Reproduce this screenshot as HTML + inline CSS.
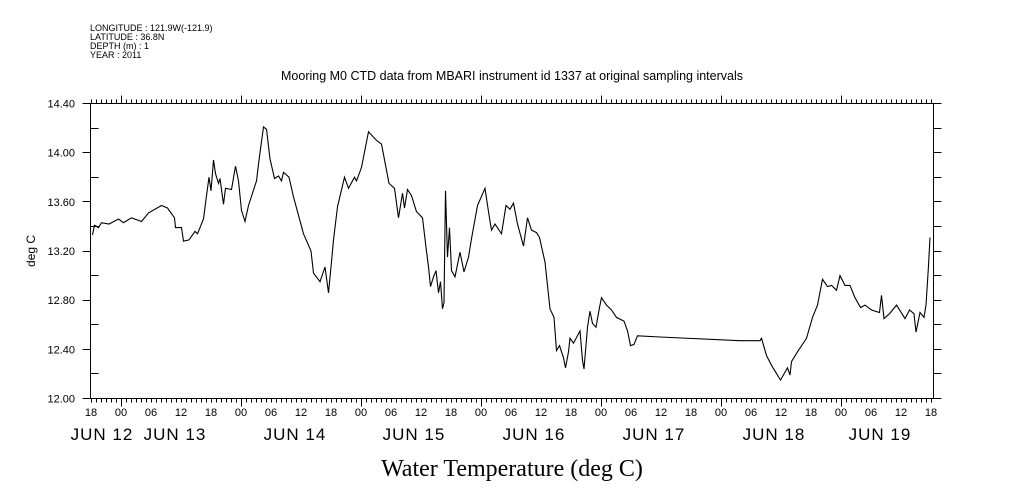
<!DOCTYPE html>
<html><head><meta charset="utf-8">
<style>
html,body{margin:0;padding:0;background:#fff;}
svg{display:block;font-family:"Liberation Sans",sans-serif;}
</style></head>
<body>
<svg id="chart" width="1009" height="504" viewBox="0 0 1009 504" xmlns="http://www.w3.org/2000/svg">
<g font-size="9" fill="#000">
<text x="90" y="31">LONGITUDE : 121.9W(-121.9)</text>
<text x="90" y="40">LATITUDE : 36.8N</text>
<text x="90" y="49">DEPTH (m) : 1</text>
<text x="90" y="58">YEAR : 2011</text>
</g>
<text x="512" y="80" text-anchor="middle" font-size="12.5">Mooring M0 CTD data from MBARI instrument id 1337 at original sampling intervals</text>
<text transform="translate(35,251) rotate(-90)" text-anchor="middle" font-size="12">deg C</text>
<text x="512" y="476" text-anchor="middle" font-size="24" font-family="Liberation Serif, serif">Water Temperature (deg C)</text>
<g id="axes"></g>
<g id="series"></g>
</svg>
<script>
const hours=[0.3,0.7,1.5,2.1,3.6,5.5,6.5,8.1,10.1,11.5,14.1,15.3,16.7,16.9,18.1,18.5,19.6,20.8,21.3,22.5,23.1,23.6,24.0,24.5,24.9,25.5,25.8,26.5,26.9,28.1,28.9,29.5,30.1,30.8,31.5,33.1,33.6,34.5,35.1,35.8,36.7,37.5,38.1,38.5,39.6,40.5,42.5,44.0,44.5,45.8,46.8,47.5,48.0,48.5,49.3,50.7,51.5,52.7,53.1,54.1,55.5,57.1,58.1,59.6,60.7,61.5,62.3,62.7,63.3,64.1,65.1,66.3,67.0,67.5,67.9,68.5,69.0,69.5,69.9,70.3,70.6,70.9,71.3,71.7,72.1,72.8,73.8,74.6,75.5,76.1,77.3,78.8,79.5,80.1,80.8,82.1,83.0,83.8,84.5,85.3,86.5,87.3,88.1,89.1,89.7,90.8,91.8,92.6,93.1,93.7,94.5,94.9,95.5,95.8,96.5,97.8,98.3,98.6,99.3,99.8,100.3,101.0,101.7,102.1,103.1,104.1,105.1,106.6,107.3,107.9,108.6,109.3,113.8,129.8,133.8,134.1,135.1,136.1,137.0,137.9,139.3,139.8,140.1,141.3,143.1,144.3,145.3,146.3,147.3,148.1,149.1,149.8,150.8,151.8,152.8,153.9,154.8,156.1,157.7,158.1,158.6,159.7,161.1,162.8,163.7,164.6,165.0,165.8,166.6,167.0,167.5,167.8];
const temps=[13.33,13.41,13.39,13.43,13.42,13.46,13.43,13.47,13.44,13.51,13.57,13.55,13.47,13.39,13.39,13.28,13.29,13.36,13.34,13.46,13.65,13.80,13.69,13.94,13.83,13.75,13.79,13.58,13.71,13.70,13.89,13.77,13.53,13.44,13.57,13.77,13.94,14.21,14.19,13.95,13.79,13.81,13.77,13.84,13.80,13.64,13.34,13.20,13.02,12.95,13.07,12.86,13.07,13.29,13.56,13.80,13.71,13.80,13.77,13.88,14.17,14.10,14.07,13.75,13.71,13.47,13.67,13.55,13.70,13.65,13.52,13.47,13.23,13.07,12.91,12.99,13.04,12.86,12.95,12.73,12.78,13.69,13.15,13.39,13.04,12.99,13.19,13.03,13.15,13.30,13.57,13.71,13.52,13.37,13.42,13.34,13.57,13.54,13.59,13.42,13.24,13.47,13.37,13.35,13.31,13.11,12.73,12.66,12.39,12.43,12.33,12.25,12.38,12.49,12.45,12.55,12.31,12.24,12.58,12.71,12.61,12.58,12.74,12.82,12.76,12.72,12.66,12.63,12.55,12.43,12.44,12.51,12.50,12.47,12.47,12.49,12.35,12.27,12.21,12.15,12.25,12.19,12.30,12.38,12.49,12.66,12.76,12.97,12.91,12.92,12.88,13.00,12.92,12.92,12.82,12.74,12.76,12.72,12.70,12.84,12.65,12.69,12.76,12.65,12.72,12.69,12.54,12.70,12.66,12.76,13.08,13.31];
const yTickLabels=["12.00","12.40","12.80","13.20","13.60","14.00","14.40"];
const hourTickLabels=["18","00","06","12"];
const dayLabels=["JUN 12","JUN 13","JUN 14","JUN 15","JUN 16","JUN 17","JUN 18","JUN 19"];

const L=90.5,R=933.5,T=103.5,B=398.5,H0=0.1,YMIN=12.0,YMAX=14.4;
const xs=h=>L+(h+H0)*5;
const ys=v=>B-(v-YMIN)/(YMAX-YMIN)*(B-T);
const NS="http://www.w3.org/2000/svg";
const ax=document.getElementById('axes'),se=document.getElementById('series');
function mk(tag,attrs,parent){const e=document.createElementNS(NS,tag);for(const k in attrs)e.setAttribute(k,attrs[k]);parent.appendChild(e);return e;}
let d='';
function ln(x1,y1,x2,y2){d+=`M${x1} ${y1}L${x2} ${y2}`;}
ln(L,T,R,T);ln(R,T,R,B);ln(R,B,L,B);ln(L,B,L,T);
// x ticks every hour
for(let h=0;h<=168;h++){const x=xs(h)-0.5*0+0;const hx=Math.round(xs(h)-0.5)+0.5;
 const big=(h%24===6);const med=(h%6===0);
 const len=big?8:4;
 ln(hx,B,hx,B+len);ln(hx,T,hx,T-len);}
// y ticks
for(let i=0;i<=12;i++){const v=YMIN+i*0.2;const y=Math.round(ys(v)-0.5)+0.5;
 if(i%2===0){ln(L-8,y,L,y);}else{ln(L,y,L+8,y);}
 ln(R,y,R+8,y);}
const p=mk('path',{d:d,stroke:'#000','stroke-width':1,fill:'none'},ax);


yTickLabels.forEach((t,i)=>{const tx=mk('text',{x:75,y:ys(parseFloat(t))+4,'text-anchor':'end','font-size':11},ax);tx.textContent=t;
 
 });
for(let h=0;h<=168;h+=6){const tx=mk('text',{x:xs(h),y:416,'text-anchor':'middle','font-size':11},ax);tx.textContent=hourTickLabels[(h/6)%4];
 
 }
const dayX=[102,175,295,414,534,654,774,880];
dayLabels.forEach((t,i)=>{const tx=mk('text',{x:dayX[i],y:440,'text-anchor':'middle','font-size':17,'letter-spacing':'1'},ax);tx.textContent=t;
 
 });
let pd='';hours.forEach((h,i)=>{pd+=(i?'L':'M')+xs(h).toFixed(1)+' '+ys(temps[i]).toFixed(1);});
const line=mk('path',{d:pd,stroke:'#000','stroke-width':1.1,fill:'none','stroke-linejoin':'miter'},se);


</script>
</body></html>
